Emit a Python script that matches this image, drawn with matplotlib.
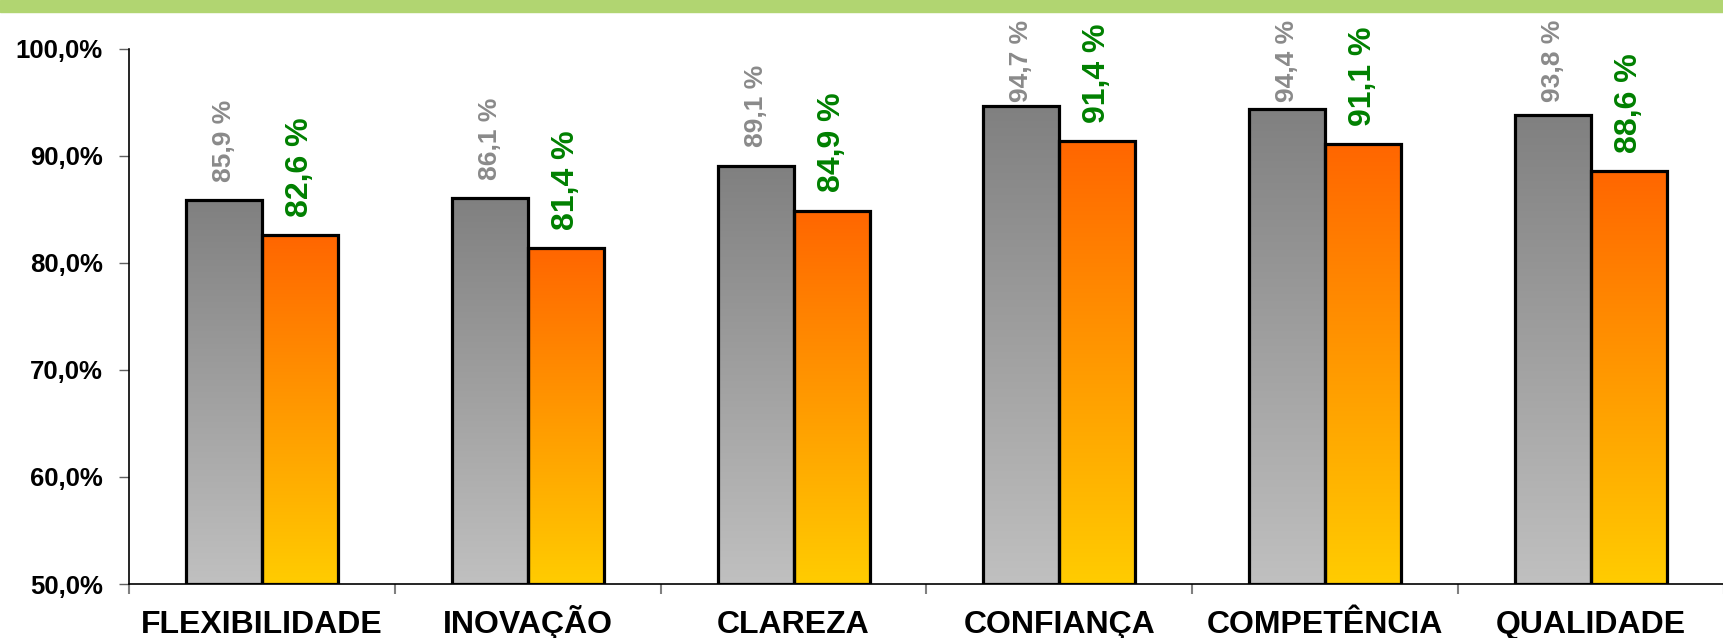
import numpy as np
import matplotlib
matplotlib.use('Agg')
import matplotlib.pyplot as plt
from matplotlib.colors import LinearSegmentedColormap

plt.rcParams['font.family'] = ['Liberation Sans', 'DejaVu Sans']
plt.rcParams['font.weight'] = 'bold'

categorias = ['FLEXIBILIDADE', 'INOVAÇÃO', 'CLAREZA', 'CONFIANÇA', 'COMPETÊNCIA', 'QUALIDADE']
serie_cinza = [85.9, 86.1, 89.1, 94.7, 94.4, 93.8]
serie_laranja = [82.6, 81.4, 84.9, 91.4, 91.1, 88.6]
yticks = [50, 60, 70, 80, 90, 100]

fig = plt.figure(figsize=(17.24, 6.38), dpi=100)
# faixa verde no topo
fig.patches.append(plt.Rectangle((0, 1 - 12 / 638), 1, 12 / 638, transform=fig.transFigure,
                                 color='#b1d571', zorder=0))

ax = fig.add_axes([129 / 1724, 54 / 638, 1 - 129 / 1724, 535 / 638])

cm_cinza = LinearSegmentedColormap.from_list('cinza', ['#c0c0c0', '#808080'])
cm_laranja = LinearSegmentedColormap.from_list('laranja', ['#ffcc00', '#ff6600'])
grad = np.linspace(0, 1, 256).reshape(-1, 1)

x = np.arange(len(categorias))
w = 0.286

def barras(pos, vals, cmap):
    bars = ax.bar(pos, [v - 50 for v in vals], w, bottom=50, facecolor='none',
                  edgecolor='black', linewidth=2.3, zorder=3)
    for b in bars:
        x0, y0 = b.get_x(), b.get_y()
        im = ax.imshow(grad, cmap=cmap, aspect='auto', origin='lower',
                       extent=[x0, x0 + b.get_width(), y0, y0 + b.get_height()], zorder=2)
        im.set_clip_path(b)
    return bars

barras(x - w / 2, serie_cinza, cm_cinza)
barras(x + w / 2, serie_laranja, cm_laranja)

for i in range(len(categorias)):
    v = serie_cinza[i]
    ax.text(x[i] - w / 2, min(v + 1.7, 95.0), f'{v:.1f} %'.replace('.', ','), rotation=90,
            ha='center', va='bottom', fontsize=19, color='#8a8a8a', clip_on=False)
    v = serie_laranja[i]
    ax.text(x[i] + w / 2, v + 1.7, f'{v:.1f} %'.replace('.', ','), rotation=90,
            ha='center', va='bottom', fontsize=23, color='#008000', clip_on=False)

ax.set_xlim(-0.5, 5.5 - 18 / 269)
ax.set_ylim(50, 100)
ax.set_yticks(yticks)
ax.set_yticklabels([f'{t:.1f}%'.replace('.', ',') for t in yticks], fontsize=18.5)
ax.set_xticks(x)
ax.set_xticklabels(categorias, fontsize=23)
for lb in ax.get_xticklabels():
    lb.set_va('baseline')
ax.tick_params(axis='x', which='major', length=0, pad=35)
ax.set_xticks([-0.5] + list(np.arange(len(categorias)) + 0.5), minor=True)
ax.tick_params(axis='x', which='minor', length=7, color='#808080', width=1.5)
ax.tick_params(axis='y', length=7, color='#606060', width=1, pad=12)

for s in ['top', 'right']:
    ax.spines[s].set_visible(False)
ax.spines['left'].set_linewidth(1.2)
ax.spines['bottom'].set_linewidth(1.2)

fig.savefig('out.png', dpi=100)
